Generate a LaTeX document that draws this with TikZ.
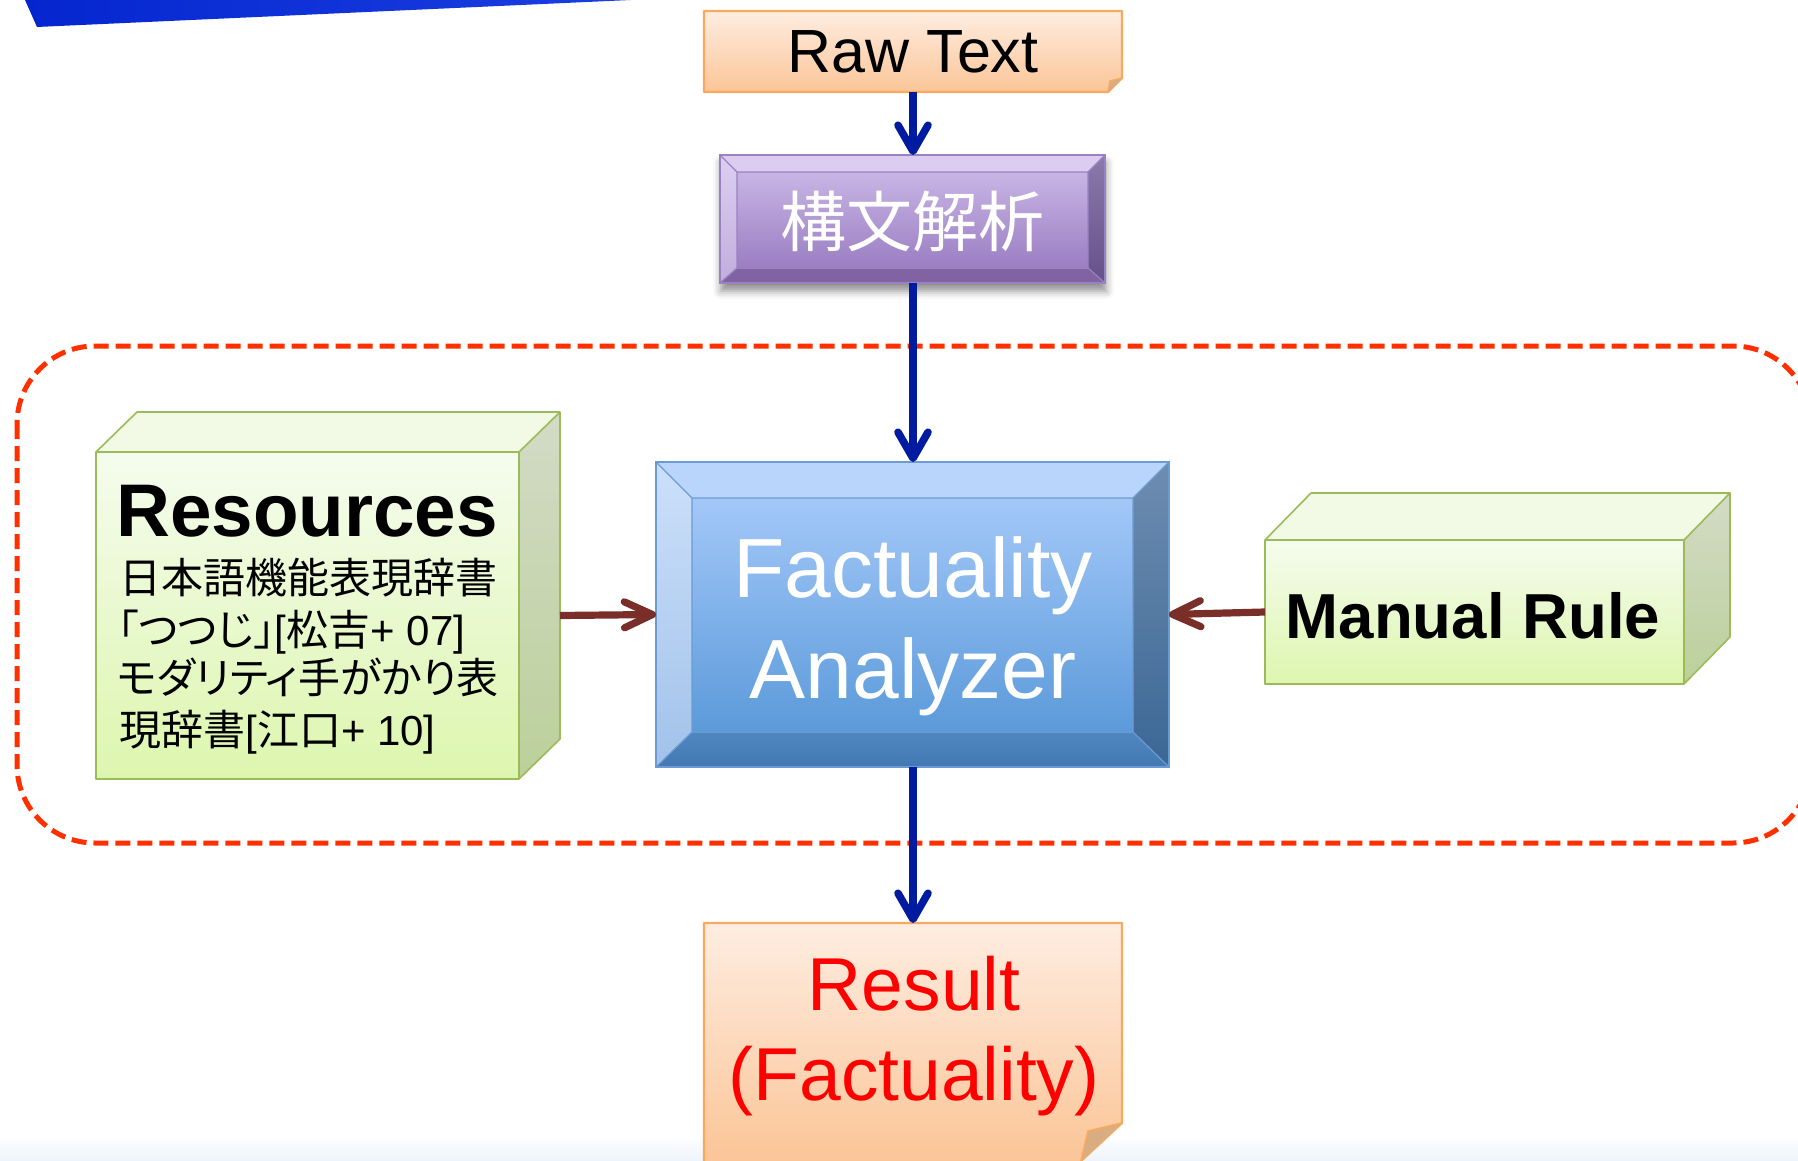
\documentclass[tikz,border=0pt]{standalone}
\usepackage{fontspec}
\setmainfont{Liberation Sans}
\newfontfamily\jp{Noto Sans CJK JP}
\newfontfamily\jpp[RawFeature=+palt]{Noto Sans CJK JP}
\usetikzlibrary{arrows.meta,shadows.blur,calc}

\definecolor{bluearrow}{HTML}{001AA0}
\definecolor{brownarrow}{HTML}{7A2E2A}
\definecolor{dashred}{HTML}{FF3000}
\definecolor{noteborder}{HTML}{F7A95E}
\definecolor{notetop}{HTML}{FEEDE1}
\definecolor{notebot}{HTML}{FBC597}
\definecolor{flapcol}{HTML}{D9AC82}
\definecolor{greenborder}{HTML}{9BBB59}
\definecolor{greentop}{HTML}{F5FCEE}
\definecolor{greenbot}{HTML}{DDF6AE}
\definecolor{greenlid}{HTML}{F2FAE6}
\definecolor{sideT}{HTML}{D3DBC6}
\definecolor{sideB}{HTML}{BBD09A}
\definecolor{banL}{HTML}{0526CF}
\definecolor{banR}{HTML}{1B3FE2}
\definecolor{stripcol}{HTML}{EDF4FB}
% purple
\definecolor{pTop}{HTML}{DCCDF0}
\definecolor{pLeftT}{HTML}{DCCFF1}
\definecolor{pLeftB}{HTML}{C2ADDC}
\definecolor{pRightT}{HTML}{8C7AAA}
\definecolor{pRightB}{HTML}{66508A}
\definecolor{pBot}{HTML}{8162A2}
\definecolor{pInT}{HTML}{C8B5E4}
\definecolor{pInB}{HTML}{9B7EC3}
\definecolor{pBorder}{HTML}{9A82C2}
% blue
\definecolor{bTop}{HTML}{B9D5FB}
\definecolor{bLeftT}{HTML}{CCE0FA}
\definecolor{bLeftB}{HTML}{A2C2EA}
\definecolor{bRightT}{HTML}{6E8DB0}
\definecolor{bRightB}{HTML}{3B6795}
\definecolor{bBotT}{HTML}{5087BF}
\definecolor{bBotB}{HTML}{4279B3}
\definecolor{bInT}{HTML}{A3C8F8}
\definecolor{bInB}{HTML}{5B9ADA}
\definecolor{bBorder}{HTML}{6B9BD2}

\begin{document}
\begin{tikzpicture}[x=0.5pt,y=-0.5pt,
  frame/.style={rectangle, inner sep=0pt, outer sep=0pt},
  bluearr/.style={draw=bluearrow, line width=3.8pt,
    -{Straight Barb[length=13pt,width=15pt,line cap=round,line join=round]}},
  brownarr/.style={draw=brownarrow, line width=3.6pt,
    -{Straight Barb[length=14pt,width=13pt,line cap=round,line join=round]}},
  greenline/.style={draw=greenborder, line width=0.8pt, line join=round},
  bigtext/.style={font=\fontsize{42pt}{50pt}\selectfont, text=white, anchor=base},
  restext/.style={font=\fontsize{37.5pt}{45pt}\selectfont, text=red, anchor=base},
  jpline/.style={font=\jpp\fontsize{21pt}{25pt}\selectfont, anchor=base west, inner sep=0pt}
]
\path[use as bounding box] (0,0) rectangle (1798,1161);
\clip (0,0) rectangle (1798,1161);

% faint strip at bottom
\shade[top color=white, bottom color=stripcol] (0,1135) rectangle (1798,1161);

% blue banner
\shade[left color=banL, right color=banR] (25,0) -- (631,0) -- (37,27) -- cycle;

% dashed region
\draw[dashred, line width=2.5pt, dash pattern=on 7.5pt off 3.5pt, rounded corners=39pt]
  (17,346) rectangle (1811,843);

% ---------- Raw Text note ----------
\shade[top color=notetop, bottom color=notebot]
  (704,11) -- (1122,11) -- (1122,78) -- (1108,92) -- (704,92) -- cycle;
\draw[noteborder, line width=1.1pt, line join=round]
  (704,11) -- (1122,11) -- (1122,78) -- (1108,92) -- (704,92) -- cycle;
\fill[flapcol] (1122,78) -- (1110,81) -- (1108,92) -- cycle;
\draw[noteborder, line width=0.7pt] (1122,78) -- (1110,81) -- (1108,92);
\node[frame, minimum width=209pt, minimum height=40.5pt,
      font=\fontsize{30.5pt}{36pt}\selectfont] (raw) at (913,51.5) {Raw Text};

% ---------- Purple box ----------
\fill[pInB, blur shadow={shadow xshift=0.5pt, shadow yshift=-4pt, shadow blur radius=4pt, shadow opacity=45}]
  (720,155) rectangle (1105,283);
\fill[pTop] (720,155) -- (1105,155) -- (1088,172) -- (737,172) -- cycle;
\shade[top color=pLeftT, bottom color=pLeftB] (720,155) -- (737,172) -- (737,268) -- (720,283) -- cycle;
\shade[top color=pRightT, bottom color=pRightB] (1105,155) -- (1105,283) -- (1088,268) -- (1088,172) -- cycle;
\fill[pBot] (720,283) -- (1105,283) -- (1088,268) -- (737,268) -- cycle;
\shade[top color=pInT, bottom color=pInB] (737,172) rectangle (1088,268);
\draw[pBorder, line width=0.6pt] (737,172) rectangle (1088,268)
  (720,155) -- (737,172) (1105,155) -- (1088,172) (720,283) -- (737,268) (1105,283) -- (1088,268);
\draw[pBorder, line width=1pt] (720,155) rectangle (1105,283);
\node[frame, minimum width=192.5pt, minimum height=64pt] (parse) at (912.5,219) {};
\node[frame, font=\jp\fontsize{33pt}{40pt}\selectfont, text=white] (parsetxt) at (912.5,221) {構文解析};

% ---------- Factuality Analyzer ----------
\fill[bInB] (656,462) rectangle (1169,767);
\fill[bTop] (656,462) -- (1169,462) -- (1133,498) -- (692,498) -- cycle;
\shade[top color=bLeftT, bottom color=bLeftB] (656,462) -- (692,498) -- (692,732) -- (656,767) -- cycle;
\shade[top color=bRightT, bottom color=bRightB] (1169,462) -- (1169,767) -- (1133,732) -- (1133,498) -- cycle;
\shade[top color=bBotT, bottom color=bBotB] (656,767) -- (1169,767) -- (1133,732) -- (692,732) -- cycle;
\shade[top color=bInT, bottom color=bInB] (692,498) rectangle (1133,732);
\draw[bBorder, line width=0.6pt] (692,498) rectangle (1133,732)
  (656,462) -- (692,498) (1169,462) -- (1133,498) (656,767) -- (692,732) (1169,767) -- (1133,732);
\draw[bBorder, line width=1pt] (656,462) rectangle (1169,767);
\node[frame, minimum width=256.5pt, minimum height=152.5pt] (fa) at (912.5,614.5) {};
\node[bigtext] (fa1) at (913,597) {Factuality};
\node[bigtext] (fa2) at (913,698) {Analyzer};

% ---------- Resources box ----------
\shade[top color=greentop, bottom color=greenbot] (96,452) rectangle (519,779);
\fill[greenlid] (96,452) -- (137,412) -- (560,412) -- (519,452) -- cycle;
\shade[top color=sideT, bottom color=sideB] (519,452) -- (560,412) -- (560,739) -- (519,779) -- cycle;
\draw[greenline] (96,452) rectangle (519,779)
  (96,452) -- (137,412) -- (560,412) -- (519,452)
  (560,412) -- (560,739) -- (519,779);
\node[frame, minimum width=211.5pt, minimum height=163.5pt] (res) at (307.5,615.5) {};
\coordinate (resout) at ([xshift=20.5pt]res.east);
\node[anchor=base west, inner sep=0pt, font=\bfseries\fontsize{37.3pt}{44pt}\selectfont] (restitle) at (116,536) {Resources};
\node[jpline] (r1) at (119,593) {日本語機能表現辞書};
\node[jpline] (r2) at (117,645) {「つつじ」{\rmfamily [}松吉{\rmfamily + 07]}};
\node[jpline] (r3) at (117,693) {モダリティ手がかり表};
\node[jpline] (r4) at (119,745) {現辞書{\rmfamily [}江口{\rmfamily + 10]}};

% ---------- Manual Rule box ----------
\shade[top color=greentop, bottom color=greenbot] (1265,540) rectangle (1684,684);
\fill[greenlid] (1265,540) -- (1311,493) -- (1730,493) -- (1684,540) -- cycle;
\shade[top color=sideT, bottom color=sideB] (1684,540) -- (1730,493) -- (1730,637) -- (1684,684) -- cycle;
\draw[greenline] (1265,540) rectangle (1684,684)
  (1265,540) -- (1311,493) -- (1730,493) -- (1684,540)
  (1730,493) -- (1730,637) -- (1684,684);
\node[frame, minimum width=209.5pt, minimum height=72pt] (mr) at (1474.5,612) {};
\node[anchor=base, font=\bfseries\fontsize{31.8pt}{38pt}\selectfont] (mrtxt) at (1473,638) {Manual Rule};

% ---------- Result note ----------
\shade[top color=notetop, bottom color=notebot]
  (704,923) -- (1122,923) -- (1122,1123) -- (1081,1161) -- (704,1161) -- cycle;
\draw[noteborder, line width=1.1pt, line join=round]
  (704,1161) -- (704,923) -- (1122,923) -- (1122,1123) -- (1081,1161);
\fill[flapcol] (1122,1123) -- (1088,1131) -- (1081,1161) -- cycle;
\draw[noteborder, line width=0.8pt] (1122,1123) -- (1088,1131) -- (1081,1161);
\node[frame, minimum width=209pt, minimum height=119pt] (result) at (913,1042) {};
\node[restext] (res1) at (914,1010) {Result};
\node[restext] (res2) at (914,1100) {(Factuality)};

% ---------- connectors ----------
\draw[bluearr] (raw.south) -- (parse.north -| raw.south);
\draw[bluearr] (parse.south -| raw.south) -- (fa.north -| raw.south);
\draw[bluearr] (fa.south -| raw.south) -- (result.north -| raw.south);
\draw[brownarr] (resout) -- (fa.west);
\draw[brownarr] (mr.west) -- (fa.east);
\end{tikzpicture}
\end{document}
